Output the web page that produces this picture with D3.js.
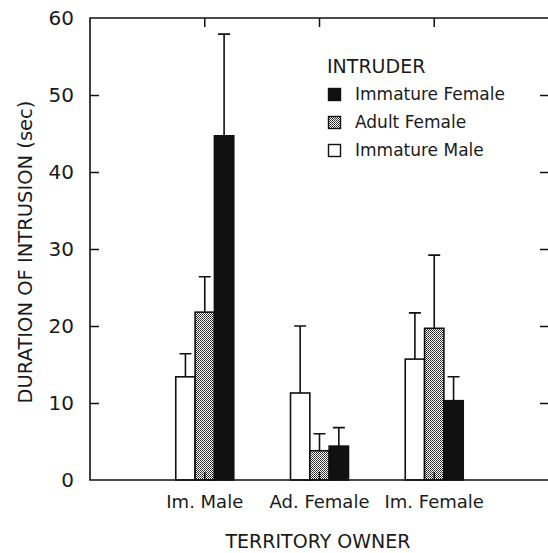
<!DOCTYPE html>
<html>
<head>
<meta charset="utf-8">
<script src="https://cdn.jsdelivr.net/npm/d3@7"></script>
<style>
  body { margin: 0; background: #fff; }
  text { font-family: "DejaVu Sans", sans-serif; fill: #1a1a1a; }
</style>
</head>
<body>
<div id="chart"></div>
<script>
// territory owner groups on the x axis
const owners = ['Im. Male', 'Ad. Female', 'Im. Female'];
// intruder series, drawn left to right inside each group
const intruders = ['Immature Male', 'Adult Female', 'Immature Female'];
// mean duration (sec) per owner, one array per intruder
const immatureMale = [13.4, 11.3, 15.7];
const adultFemale = [21.8, 3.8, 19.7];
const immatureFemale = [44.7, 4.4, 10.3];
// standard error (upper whisker length)
const immatureMaleErr = [3.0, 8.7, 6.0];
const adultFemaleErr = [4.6, 2.2, 9.5];
const immatureFemaleErr = [13.2, 2.4, 3.1];
const yTicks = [0, 10, 20, 30, 40, 50, 60];
// legend order as in the figure
const legendOrder = ['Immature Female', 'Adult Female', 'Immature Male'];

const means = [immatureMale, adultFemale, immatureFemale];
const errs = [immatureMaleErr, adultFemaleErr, immatureFemaleErr];

const width = 548, height = 553;
const margin = { top: 18, right: -1, bottom: 73, left: 90 };

const svg = d3.select('#chart').append('svg')
    .attr('width', width)
    .attr('height', height);

// dotted fill for the adult female bars
const pat = svg.append('defs').append('pattern')
    .attr('id', 'dots')
    .attr('width', 2).attr('height', 2)
    .attr('patternUnits', 'userSpaceOnUse');
pat.append('rect').attr('width', 2).attr('height', 2).attr('fill', '#fff');
pat.append('rect').attr('width', 1).attr('height', 1).attr('fill', '#222');
pat.append('rect').attr('x', 1).attr('y', 1).attr('width', 1).attr('height', 1).attr('fill', '#444');

const fills = { 'Immature Male': '#fff', 'Adult Female': 'url(#dots)', 'Immature Female': '#111' };

const x0 = d3.scaleBand()
    .domain(owners)
    .range([margin.left + 57.4, width - margin.right - 57.4]);

const x1 = d3.scaleBand()
    .domain(intruders)
    .range([-29, 29]);

const y = d3.scaleLinear()
    .domain([0, 60])
    .range([height - margin.bottom, margin.top]);

const xLeft = margin.left, xRight = width - margin.right;
const yTop = y(60), yBottom = y(0);

// bars
const rows = [];
owners.forEach((o, i) => {
    intruders.forEach((s, j) => {
        rows.push({ owner: o, intruder: s, mean: means[j][i], err: errs[j][i] });
    });
});

const g = svg.append('g');

// error bars (upper only)
g.selectAll('.err')
    .data(rows)
    .enter().append('path')
    .attr('class', 'err')
    .attr('d', d => {
        const cx = x0(d.owner) + x0.bandwidth() / 2 + x1(d.intruder) + x1.bandwidth() / 2;
        const yt = y(d.mean + d.err);
        return `M${cx},${y(d.mean)}V${yt}M${cx - 6},${yt}H${cx + 6}`;
    })
    .attr('stroke', '#111')
    .attr('stroke-width', 1.6)
    .attr('fill', 'none');

g.selectAll('.bar')
    .data(rows)
    .enter().append('rect')
    .attr('class', 'bar')
    .attr('x', d => x0(d.owner) + x0.bandwidth() / 2 + x1(d.intruder))
    .attr('y', d => y(d.mean))
    .attr('width', x1.bandwidth())
    .attr('height', d => yBottom - y(d.mean))
    .attr('fill', d => fills[d.intruder])
    .attr('stroke', '#111')
    .attr('stroke-width', 1.6);

// frame
svg.append('path')
    .attr('d', `M${xRight},${yTop}H${xLeft}V${yBottom}H${xRight}`)
    .attr('fill', 'none')
    .attr('stroke', '#111')
    .attr('stroke-width', 1.6);

// y axis, ticks inward
const yAxis = svg.append('g')
    .attr('transform', `translate(${xLeft},0)`)
    .call(d3.axisRight(y).tickValues(yTicks).tickSize(9).tickFormat(''));
yAxis.select('.domain').remove();
yAxis.selectAll('line').attr('stroke', '#111').attr('stroke-width', 1.5)
    .filter(d => d === 0 || d === 60).remove();

const yAxisR = svg.append('g')
    .attr('transform', `translate(${width},0)`)
    .call(d3.axisLeft(y).tickValues(yTicks).tickSize(8).tickFormat(''));
yAxisR.select('.domain').remove();
yAxisR.selectAll('line').attr('stroke', '#111').attr('stroke-width', 1.5)
    .filter(d => d === 0 || d === 60).remove();

svg.append('g').selectAll('text')
    .data(yTicks)
    .enter().append('text')
    .attr('x', 74)
    .attr('y', d => y(d))
    .attr('dy', '0.36em')
    .attr('text-anchor', 'end')
    .attr('font-size', 20)
    .text(d => d);

// x axis ticks at top and bottom, inward
const xTopAxis = svg.append('g')
    .attr('transform', `translate(0,${yTop})`)
    .call(d3.axisBottom(x0).tickSize(9).tickFormat(''));
xTopAxis.select('.domain').remove();
xTopAxis.selectAll('line').attr('stroke', '#111').attr('stroke-width', 1.5);

const xBotAxis = svg.append('g')
    .attr('transform', `translate(0,${yBottom})`)
    .call(d3.axisTop(x0).tickSize(8).tickFormat(''));
xBotAxis.select('.domain').remove();
xBotAxis.selectAll('line').attr('stroke', '#111').attr('stroke-width', 1.5);

svg.append('g').selectAll('text')
    .data(owners)
    .enter().append('text')
    .attr('x', d => x0(d) + x0.bandwidth() / 2)
    .attr('y', 508)
    .attr('text-anchor', 'middle')
    .attr('font-size', 18)
    .text(d => d);

svg.append('text')
    .attr('x', 318)
    .attr('y', 548)
    .attr('text-anchor', 'middle')
    .attr('font-size', 19)
    .text('TERRITORY OWNER');

svg.append('text')
    .attr('transform', `translate(32,252) rotate(-90)`)
    .attr('text-anchor', 'middle')
    .attr('font-size', 19.5)
    .text('DURATION OF INTRUSION (sec)');

// legend
const legend = svg.append('g');
legend.append('text')
    .attr('x', 327)
    .attr('y', 73)
    .attr('font-size', 19)
    .text('INTRUDER');

const lg = legend.selectAll('.item')
    .data(legendOrder)
    .enter().append('g')
    .attr('class', 'item')
    .attr('transform', (d, i) => `translate(328,${100 + i * 28})`);

lg.append('rect')
    .attr('x', 0.5)
    .attr('y', -11.5)
    .attr('width', 12)
    .attr('height', 12)
    .attr('fill', d => fills[d])
    .attr('stroke', '#111')
    .attr('stroke-width', 1.4);

lg.append('text')
    .attr('x', 27)
    .attr('y', 0)
    .attr('font-size', 17)
    .text(d => d);
</script>
</body>
</html>
